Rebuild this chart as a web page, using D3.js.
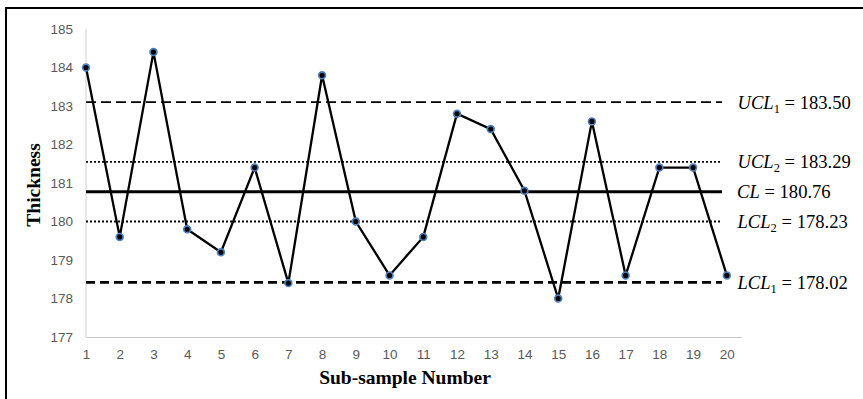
<!DOCTYPE html>
<html>
<head>
<meta charset="utf-8">
<script src="https://cdn.jsdelivr.net/npm/d3@7/dist/d3.min.js"></script>
<style>
  html, body { margin: 0; padding: 0; background: #fff; }
  svg { display: block; }
</style>
</head>
<body>
<svg id="chart" width="863" height="399"></svg>
<script>
// ---- data ----
const subSamples = [1,2,3,4,5,6,7,8,9,10,11,12,13,14,15,16,17,18,19,20];
const thickness = [184.0,179.6,184.4,179.8,179.2,181.4,178.4,183.8,180.0,178.6,179.6,182.8,182.4,180.8,178.0,182.6,178.6,181.4,181.4,178.6];
const yTicks = [177,178,179,180,181,182,183,184,185];
// control limits: plotted level (as drawn in the figure), label name, subscript, printed value
const limitNames = ["UCL","UCL","CL","LCL","LCL"];
const limitSubs = ["1","2","","2","1"];
const limitValues = ["183.50","183.29","180.76","178.23","178.02"];
const limitLevels = [183.1, 181.55, 180.77, 180.0, 178.42];
const limitStyles = ["dashUpper","dot","solid","dot","dashLower"];

// ---- chart ----
const svg = d3.select("#chart");
const x = d3.scaleLinear().domain([1, 20.45]).range([86, 742]);
const y = d3.scaleLinear().domain([177, 185]).range([337, 29]);

// frame (top & left visible)
svg.append("line").attr("x1",5).attr("x2",863).attr("y1",8).attr("y2",8)
  .attr("stroke","#000").attr("stroke-width",2);
svg.append("line").attr("x1",6).attr("x2",6).attr("y1",7).attr("y2",399)
  .attr("stroke","#000").attr("stroke-width",2);

// axis lines
svg.append("line").attr("x1",x(1)).attr("x2",x(1)).attr("y1",y(185)).attr("y2",y(177))
  .attr("stroke","#d0d0d0").attr("stroke-width",1);
svg.append("line").attr("x1",x(1)).attr("x2",x(20.45)).attr("y1",y(177)+0.5).attr("y2",y(177)+0.5)
  .attr("stroke","#c8c8c8").attr("stroke-width",1);

const tickFont = "'Liberation Sans', Arial, sans-serif";
// y axis ticks
const yAxis = d3.axisLeft(y).tickValues(yTicks).tickSize(0).tickPadding(13).tickFormat(d3.format("d"));
const gy = svg.append("g").attr("transform",`translate(${x(1)},0)`).call(yAxis);
gy.select(".domain").remove();
gy.selectAll("text").attr("fill","#595959").style("font-family",tickFont).style("font-size","13.5px");

// x axis ticks
const xAxis = d3.axisBottom(x).tickValues(subSamples).tickSize(0).tickPadding(12).tickFormat(d3.format("d"));
const gx = svg.append("g").attr("transform",`translate(0,${y(177)})`).call(xAxis);
gx.select(".domain").remove();
gx.selectAll("text").attr("fill","#595959").style("font-family",tickFont).style("font-size","13.5px");

// limit lines
const styleMap = {
  dashUpper: {w:1.6, dash:"10,5"},
  dot: {w:1.8, dash:"2,2"},
  solid: {w:3, dash:null},
  dashLower: {w:2.6, dash:"9,5"}
};
limitLevels.forEach((lv,i) => {
  const st = styleMap[limitStyles[i]];
  const ln = svg.append("line")
    .attr("x1", x(1)).attr("x2", 722)
    .attr("y1", y(lv)).attr("y2", y(lv))
    .attr("stroke","#000").attr("stroke-width", st.w);
  if (st.dash) ln.attr("stroke-dasharray", st.dash);
});

// data line
const line = d3.line().x((d,i) => x(subSamples[i])).y(d => y(d));
svg.append("path").datum(thickness).attr("d", line)
  .attr("fill","none").attr("stroke","#000").attr("stroke-width",2.3).attr("stroke-linejoin","miter");

// markers
svg.selectAll("circle.pt").data(thickness).enter().append("circle")
  .attr("class","pt")
  .attr("cx",(d,i)=>x(subSamples[i])).attr("cy",d=>y(d)).attr("r",3.4)
  .attr("fill","#000").attr("stroke","#4f81bd").attr("stroke-width",1.7);

// limit labels
const serif = "'Liberation Serif', 'Times New Roman', serif";
limitLevels.forEach((lv,i) => {
  const t = svg.append("text")
    .attr("x", limitNames[i] === "CL" ? 737 : 737.5)
    .attr("y", y(lv)).attr("dy","0.35em")
    .style("font-family", serif).style("font-size","18.6px").attr("fill","#000");
  t.append("tspan").style("font-style","italic").text(limitNames[i]);
  if (limitSubs[i]) {
    t.append("tspan").attr("dy", 4).style("font-size","12.5px").text(limitSubs[i]);
    t.append("tspan").attr("dy", -4).text(" = " + limitValues[i]);
  } else {
    t.append("tspan").text(" = " + limitValues[i]);
  }
});

// axis titles
svg.append("text").attr("x", 405).attr("y", 384)
  .attr("text-anchor","middle")
  .style("font-family", serif).style("font-weight","bold").style("font-size","19.5px")
  .text("Sub-sample Number");
svg.append("text")
  .attr("transform","translate(40,185) rotate(-90)")
  .attr("text-anchor","middle")
  .style("font-family", serif).style("font-weight","bold").style("font-size","19.5px")
  .text("Thickness");
</script>
</body>
</html>
